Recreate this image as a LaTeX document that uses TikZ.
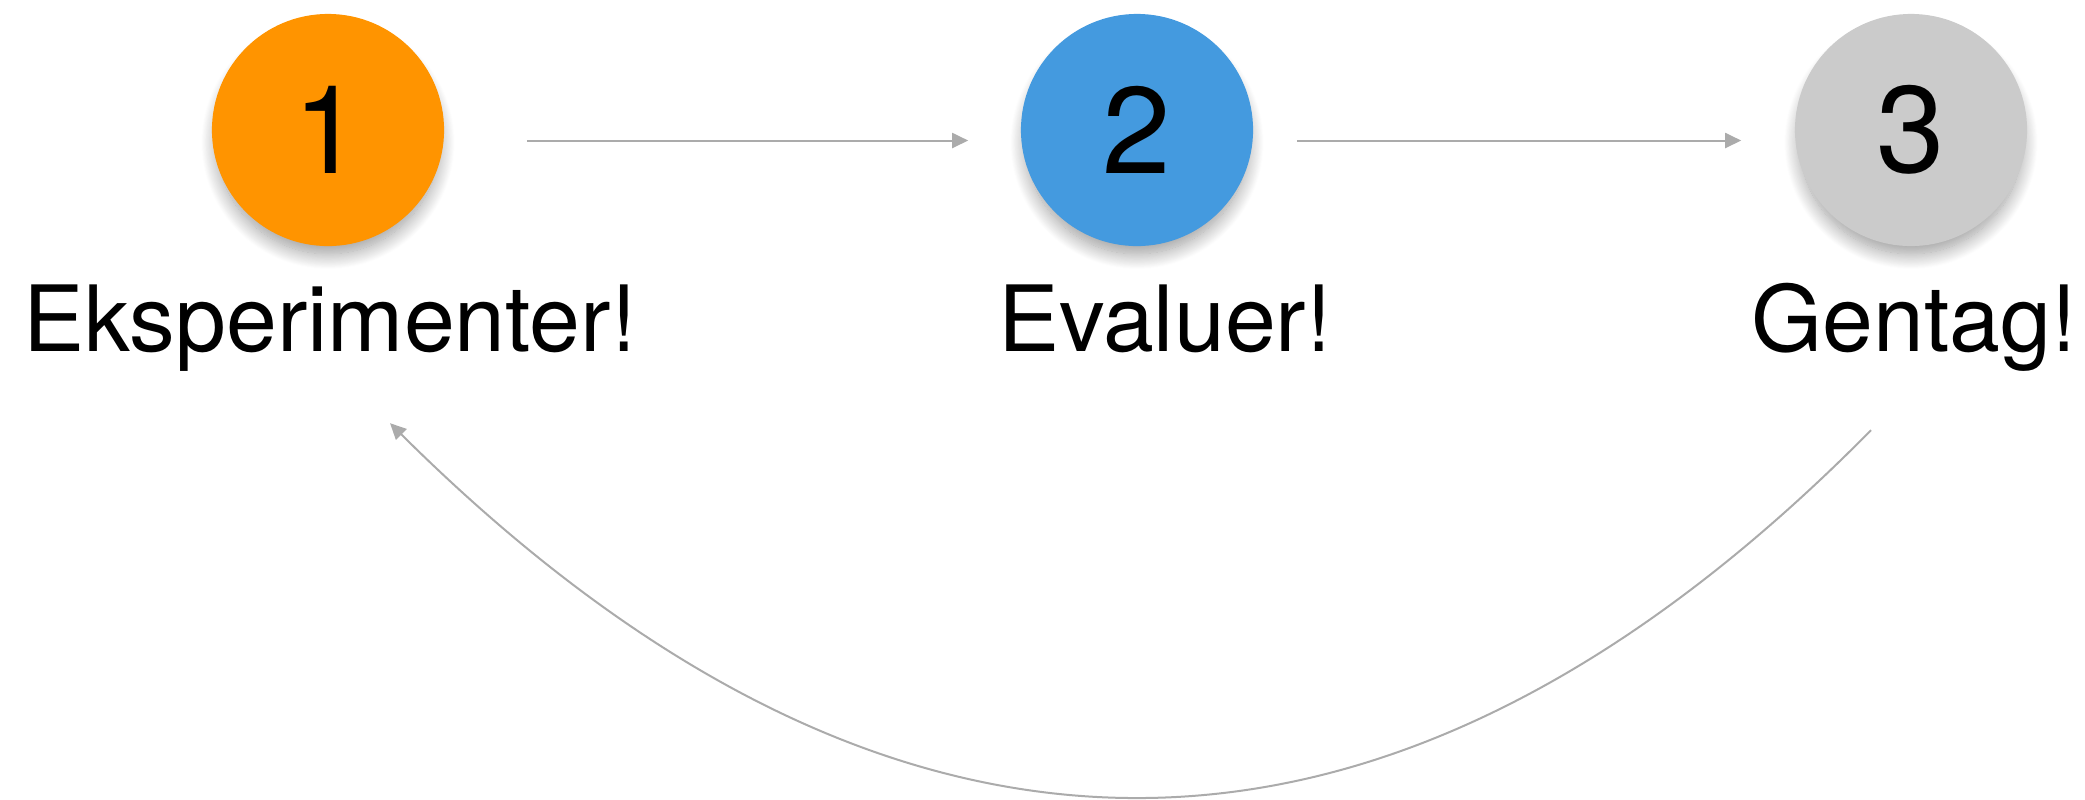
\documentclass[tikz,border=0pt]{standalone}
\usepackage{fontspec}
\setmainfont{TeX Gyre Heros}
\usetikzlibrary{arrows.meta,shadows.blur}
\definecolor{corange}{HTML}{FF9400}
\definecolor{cblue}{HTML}{449ADF}
\definecolor{cgray}{HTML}{CBCBCB}
\definecolor{cline}{HTML}{ABABAB}
\begin{document}
\begin{tikzpicture}[x=0.01cm,y=-0.01cm,
  stepcircle/.style={circle, minimum size=2.32cm, inner sep=0pt,
    font=\fontsize{35}{40}\selectfont,
    blur shadow={shadow xshift=0pt, shadow yshift=-0.13cm, shadow scale=0.96, shadow blur radius=0.16cm, shadow blur steps=20, shadow opacity=40}},
  steplabel/.style={anchor=base, inner sep=0pt, font=\fontsize{26}{30}\selectfont},
  conn/.style={draw=cline, line width=0.02cm, -{Triangle[length=0.16cm,width=0.15cm]}}
]
\useasboundingbox (0,0) rectangle (2085,799);
\node[stepcircle, fill=corange] (c1) at (328,130) {1};
\node[stepcircle, fill=cblue] (c2) at (1137,130) {2};
\node[stepcircle, fill=cgray] (c3) at (1911,130) {3};
\node[steplabel] (t1) at (330,351) {Eksperimenter!};
\node[steplabel] (t2) at (1165,351) {Evaluer!};
\node[steplabel] (t3) at (1914,351) {Gentag!};
\draw[conn] ([xshift=0.82cm,yshift=-0.105cm]c1.east) -- ([xshift=-0.52cm,yshift=-0.105cm]c2.west);
\draw[conn] ([xshift=0.43cm,yshift=-0.105cm]c2.east) -- ([xshift=-0.53cm,yshift=-0.105cm]c3.west);
\coordinate (ls) at ([xshift=-0.40cm,yshift=-3.0cm]c3.center);
\coordinate (le) at ([xshift=0.62cm,yshift=-2.93cm]c1.center);
\draw[conn] (ls) .. controls (1388,920) and (890,920) .. (le);
\end{tikzpicture}
\end{document}
